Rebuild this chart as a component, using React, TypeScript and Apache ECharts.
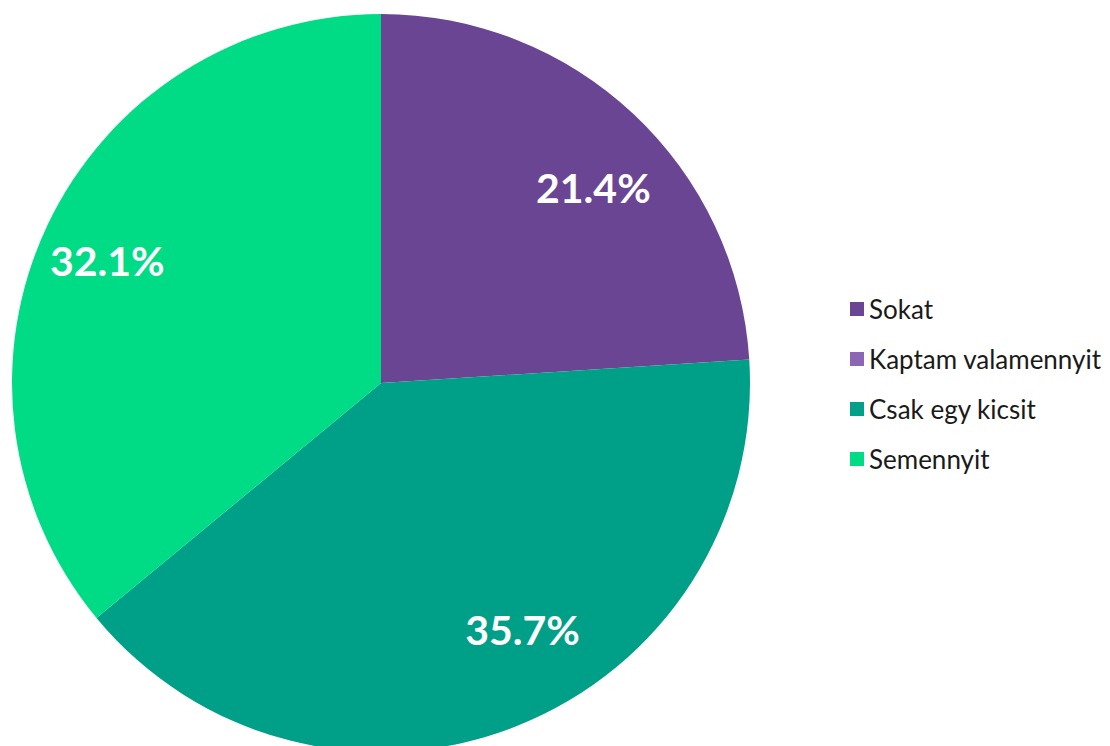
import React, { useEffect, useRef } from "react";
import * as echarts from "echarts";

const categories = ["Sokat", "Kaptam valamennyit", "Csak egy kicsit", "Semennyit"];
const values = [21.4, 0, 35.7, 32.1];
const colors = ["#6a4594", "#8a66b3", "#00a088", "#00db86"];
const labelOffsets: [number, number][] = [[16, 14], [0, 0], [36, -20], [-14, 0]];

export default function App() {
  const ref = useRef<HTMLDivElement>(null);
  useEffect(() => {
    if (!ref.current) return;
    const chart = echarts.init(ref.current, undefined, { renderer: "svg" });
    const font = "Lato, 'Noto Sans', sans-serif";
    chart.setOption({
      animation: false,
      color: colors,
      legend: {
        orient: "vertical",
        left: 845,
        top: 291,
        itemWidth: 14,
        itemHeight: 14,
        itemGap: 24,
        itemTextGap: 10,
        icon: "rect",
        data: categories.map((n, i) => ({ name: n, itemStyle: { color: colors[i] } })),
        textStyle: { fontFamily: font, fontSize: 26, color: "#1a1a1a" },
      },
      series: [
        {
          type: "pie",
          center: [381, 383],
          radius: [0, 369],
          startAngle: 90,
          clockwise: true,
          label: { show: false },
          labelLine: { show: false },
          silent: true,
          itemStyle: { borderWidth: 0 },
          data: categories.map((n, i) => ({ name: n, value: values[i], itemStyle: { color: colors[i] } })),
        },
        {
          type: "pie",
          center: [381, 383],
          radius: [200, 368],
          startAngle: 90,
          clockwise: true,
          silent: true,
          legendHoverLink: false,
          itemStyle: { color: "rgba(0,0,0,0)", borderWidth: 0 },
          labelLine: { show: false },
          data: categories.map((n, i) => ({
            name: n,
            value: values[i],
            label: {
              show: values[i] > 0,
              position: "inside",
              formatter: `${values[i]}%`,
              offset: labelOffsets[i],
              color: "#ffffff",
              fontFamily: font,
              fontWeight: "bold",
              fontSize: 41,
            },
          })),
        },
      ],
    });
    return () => chart.dispose();
  }, []);
  return (
    <div
      ref={ref}
      style={{ position: "fixed", left: 0, top: 0, width: 1110, height: 746, background: "#fff" }}
    />
  );
}
